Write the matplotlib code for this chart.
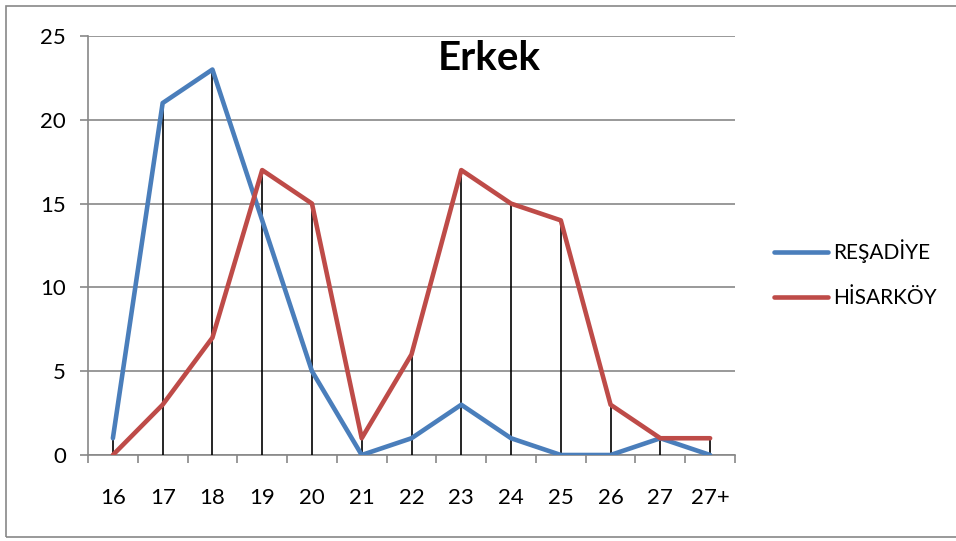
import matplotlib.pyplot as plt
import matplotlib.patches as mpatches
import numpy as np

categories = ["16", "17", "18", "19", "20", "21", "22", "23", "24", "25", "26", "27", "27+"]
resadiye = [1, 21, 23, 14, 5, 0, 1, 3, 1, 0, 0, 1, 0]
hisarkoy = [0, 3, 7, 17, 15, 1, 6, 17, 15, 14, 3, 1, 1]
y_ticks = [0, 5, 10, 15, 20, 25]

plt.rcParams["font.family"] = ["Lato", "DejaVu Sans"]

fig = plt.figure(figsize=(9.56, 5.41), dpi=100)
ax = fig.add_axes([88 / 956, 1 - 455 / 541, (735 - 88) / 956, (455 - 36) / 541])

# outer chart border
border = mpatches.Rectangle((6 / 956, 4 / 541), 1.2, 1 - 10 / 541,
                            transform=fig.transFigure, fill=False,
                            edgecolor="#888888", lw=1.2)
fig.patches.append(border)

x = np.arange(len(categories))
blue = "#4A7EBB"
red = "#BE4B48"

# drop lines
tops = np.maximum(resadiye, hisarkoy)
ax.vlines(x, 0, tops, color="black", lw=1.2, zorder=3)

ax.plot(x, resadiye, color=blue, lw=3.3, label="REŞADİYE", zorder=4,
        solid_capstyle="round")
ax.plot(x, hisarkoy, color=red, lw=3.3, label="HİSARKÖY", zorder=4,
        solid_capstyle="round")

ax.set_xlim(-0.5, len(categories) - 0.5)
ax.set_ylim(0, 25)
ax.set_yticks(y_ticks)
ax.set_xticks(x)
ax.set_xticklabels(categories)
ax.set_xticks(np.arange(-0.5, len(categories)), minor=True)
ax.tick_params(axis="x", which="major", length=0, pad=24, labelsize=16)
ax.tick_params(axis="x", which="minor", length=6, color="#888888", width=1.2)
ax.tick_params(axis="y", length=6, color="#888888", width=1.2, labelsize=16, pad=10)
ax.grid(axis="y", color="#888888", lw=1.2)
ax.set_axisbelow(True)
for s in ["top", "right"]:
    ax.spines[s].set_visible(False)
ax.spines["left"].set_color("#888888")
ax.spines["bottom"].set_color("#888888")
ax.spines["left"].set_linewidth(1.2)
ax.spines["bottom"].set_linewidth(1.2)

ax.text(0.62, 0.947, "Erkek", transform=ax.transAxes, fontsize=29,
        fontweight="bold", ha="center", va="center")

fig.legend(loc="center left", bbox_to_anchor=(755 / 956, 1 - 274 / 541),
           frameon=False, fontsize=15, handlelength=2.6, labelspacing=1.2,
           handletextpad=0.25)

fig.savefig("out.png", dpi=100)
